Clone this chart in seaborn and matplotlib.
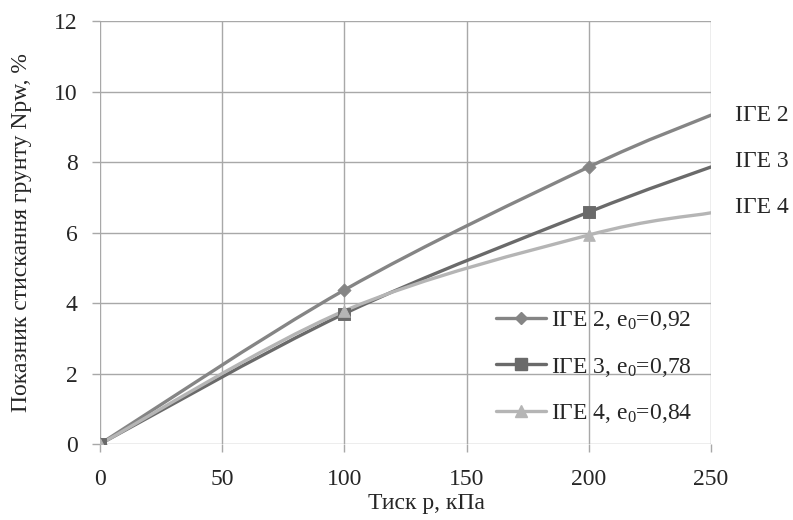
import numpy as np
import pandas as pd
import matplotlib
matplotlib.use('Agg')
import matplotlib.pyplot as plt
from matplotlib.path import Path
from matplotlib.patches import PathPatch
from matplotlib.lines import Line2D
import seaborn as sns

# values
pressure = [0, 100, 200, 250]
ige2 = [0, 4.37, 7.86, 9.33]
ige3 = [0, 3.70, 6.58, 7.86]
ige4 = [0, 3.78, 5.93, 6.56]
names = ['ІГЕ 2', 'ІГЕ 3', 'ІГЕ 4']
e0 = ['0,92', '0,78', '0,84']
colors = ['#858585', '#6a6a6a', '#b5b5b5']
markers = ['D', 's', '^']
label_shift = [0, 4, 4]   # points, right-hand labels

sns.set_style('white')
plt.rcParams['font.family'] = ['Liberation Serif', 'DejaVu Serif']
plt.rcParams['mathtext.fontset'] = 'custom'
plt.rcParams['mathtext.rm'] = 'Liberation Serif'
plt.rcParams['mathtext.it'] = 'Liberation Serif'


def smooth_path(xs, ys):
    # excel-like smoothed line as bezier segments
    pts = np.column_stack([xs, ys]).astype(float)
    n = len(pts)
    verts = [pts[0]]
    codes = [Path.MOVETO]
    for i in range(n - 1):
        p0 = pts[max(i - 1, 0)]
        p1 = pts[i]
        p2 = pts[i + 1]
        p3 = pts[min(i + 2, n - 1)]
        verts += [p1 + (p2 - p0) / 6, p2 - (p3 - p1) / 6, p2]
        codes += [Path.CURVE4] * 3
    return Path(verts, codes)


df = pd.DataFrame({'p': pressure * 3,
                   'v': ige2 + ige3 + ige4,
                   'name': [n for n in names for _ in pressure]})

fig = plt.figure(figsize=(7.93, 5.2), dpi=100)
ax = fig.add_axes([0.126, 0.146, 0.7706, 0.8136])

handles = []
for i, name in enumerate(names):
    g = df[df['name'] == name]
    ax.add_patch(PathPatch(smooth_path(g['p'], g['v']), facecolor='none',
                           edgecolor=colors[i], lw=2.4, zorder=3,
                           capstyle='round'))
    m = g[g['p'] <= 200]
    sns.scatterplot(x=m['p'], y=m['v'], ax=ax, marker=markers[i],
                    color=colors[i], s=70 if markers[i] != 'D' else 45,
                    edgecolor=colors[i], zorder=4, legend=False)
    handles.append(Line2D([0], [0], color=colors[i], lw=2.4,
                          marker=markers[i], markersize=8 if markers[i] != 'D' else 6.5))
    ax.annotate(name, (260, g['v'].iloc[-1]), xytext=(0, label_shift[i]),
                textcoords='offset points', fontsize=17, va='center',
                ha='left', annotation_clip=False)

ax.set_xlim(0, 250)
ax.set_ylim(0, 12)
ax.set_xticks(range(0, 251, 50))
ax.set_yticks(range(0, 13, 2))
ax.grid(True, color='#a8a8a8', lw=1)
for s in ax.spines.values():
    s.set_visible(False)
ax.tick_params(axis='both', labelsize=17, length=6, color='#a8a8a8',
               width=1, direction='out', bottom=True, left=True)
ax.tick_params(axis='y', pad=10)
ax.tick_params(axis='x', pad=12)
ax.set_xlabel('Тиск р, кПа', fontsize=17)
ax.xaxis.set_label_coords(0.535, -0.115)
ax.set_ylabel('Показник стискання грунту Npw, %', fontsize=17, labelpad=16)

labels = [f'{n}, e$_0$={v}' for n, v in zip(names, e0)]
leg = ax.legend(handles, labels, loc='lower right', bbox_to_anchor=(1.0, 0.0),
                frameon=False, fontsize=17, handlelength=2.1, labelspacing=1.0,
                borderpad=0.3, handletextpad=0.2)

fig.savefig('out.png', dpi=100)
